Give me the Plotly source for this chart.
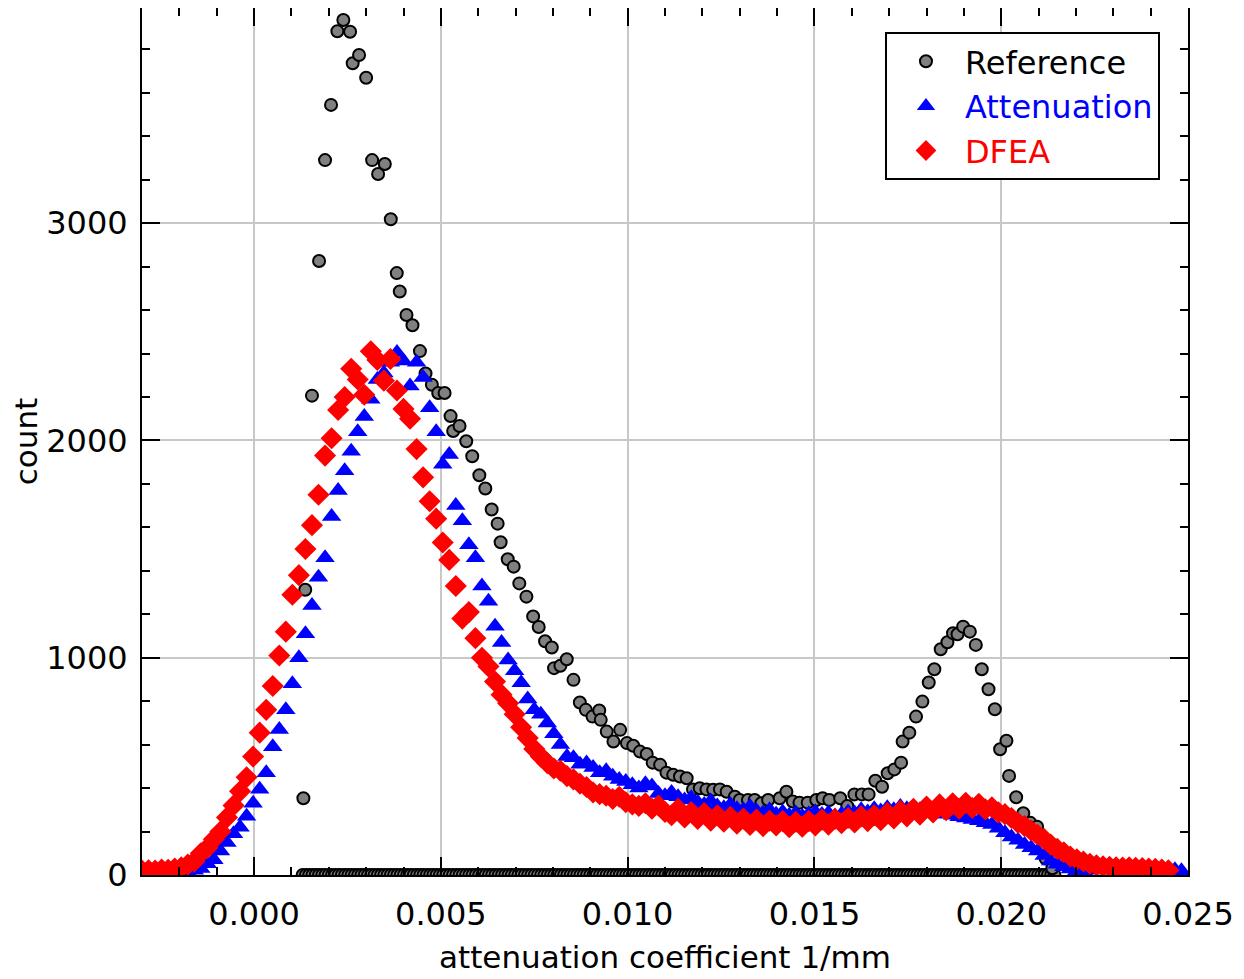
import plotly.graph_objects as go

# histogram bins shared by the two reconstructions
bin_start = -0.003
bin_width = 0.000175

attenuation = [
    5, 5, 6, 6, 7, 8, 10, 14, 22, 30,
    52, 70, 110, 150, 190, 220, 270, 330, 395, 470,
    590, 670, 760, 880, 1000, 1110, 1240, 1370, 1460, 1650,
    1770, 1860, 1950, 2040, 2110, 2190, 2280, 2310, 2360, 2405,
    2365, 2250, 2360, 2290, 2150, 2040, 1890, 1935, 1700, 1630,
    1520, 1460, 1330, 1260, 1145, 1070, 990, 940, 885, 810,
    760, 740, 700, 650, 600, 545, 540, 510, 515, 495,
    470, 480, 455, 440, 430, 415, 400, 420, 410, 375,
    365, 380, 360, 345, 355, 335, 325, 340, 318, 310,
    325, 305, 300, 315, 295, 285, 300, 280, 290, 275,
    285, 270, 282, 290, 278, 285, 272, 280, 290, 285,
    300, 290, 305, 295, 310, 300, 315, 305, 312, 300,
    295, 290, 280, 285, 275, 268, 262, 255, 250, 240,
    232, 215, 195, 175, 160, 140, 125, 110, 90, 65,
    50, 38, 28, 20, 18, 22, 25, 28, 30, 30,
    32, 30, 32, 30, 30, 28, 28, 26, 24, 20,
]

dfea = [
    20, 22, 20, 25, 24, 30, 35, 48, 62, 100,
    125, 165, 200, 265, 320, 385, 450, 545, 655, 760,
    870, 1010, 1120, 1290, 1380, 1500, 1610, 1750, 1930, 2010,
    2140, 2200, 2330, 2280, 2210, 2410, 2370, 2275, 2375, 2230,
    2145, 2100, 1960, 1830, 1720, 1640, 1530, 1450, 1330, 1180,
    1210, 1090, 1000, 960, 890, 830, 790, 740, 680, 630,
    580, 545, 515, 490, 480, 455, 440, 420, 405, 380,
    372, 365, 350, 360, 335, 325, 318, 330, 305, 320,
    290, 275, 305, 265, 290, 258, 285, 250, 275, 245,
    268, 236, 260, 230, 255, 225, 250, 228, 248, 220,
    245, 222, 248, 228, 255, 232, 258, 238, 262, 242,
    270, 248, 275, 252, 285, 260, 295, 270, 305, 278,
    315, 288, 325, 298, 330, 305, 332, 308, 328, 302,
    312, 288, 280, 262, 240, 225, 205, 185, 165, 140,
    120, 105, 85, 72, 62, 52, 45, 40, 38, 36,
    34, 35, 33, 32, 30, 28, 25, 22,
]

reference_x = [
    0.00132, 0.00137, 0.00155, 0.00174, 0.00190, 0.00206, 0.00223, 0.00239,
    0.00257, 0.00264, 0.00281, 0.00300, 0.00316, 0.00332, 0.00350, 0.00366,
    0.00382, 0.00390, 0.00408, 0.00424, 0.00444, 0.00459, 0.00476, 0.00493,
    0.00510, 0.00526, 0.00533, 0.00550, 0.00568, 0.00584, 0.00603, 0.00619,
    0.00636, 0.00652, 0.00660, 0.00679, 0.00695, 0.00710, 0.00729, 0.00747,
    0.00762, 0.00779, 0.00797, 0.00803, 0.00820, 0.00837, 0.00855, 0.00872,
    0.00888, 0.00906, 0.00924, 0.00928, 0.00944, 0.00962, 0.00980, 0.00998,
    0.01015, 0.01033, 0.01051, 0.01067, 0.01087, 0.01104, 0.01122, 0.01140,
    0.01158, 0.01175, 0.01193, 0.01211, 0.01229, 0.01247, 0.01265, 0.01287,
    0.01300, 0.01322, 0.01340, 0.01358, 0.01376, 0.01407, 0.01425, 0.01442,
    0.01460, 0.01482, 0.01505, 0.01522, 0.01540, 0.01569, 0.01588, 0.01607,
    0.01627, 0.01645, 0.01663, 0.01681, 0.01696, 0.01714, 0.01732, 0.01736,
    0.01754, 0.01772, 0.01789, 0.01806, 0.01821, 0.01838, 0.01856, 0.01871,
    0.01883, 0.01898, 0.01916, 0.01932, 0.01948, 0.01966, 0.01983, 0.01997,
    0.02014, 0.02021, 0.02040, 0.02059, 0.02078, 0.02096, 0.02119, 0.02137,
]
reference_y = [
    353, 1313, 2206, 2826, 3290, 3544, 3883, 3935,
    3881, 3736, 3774, 3669, 3290, 3226, 3272, 3018,
    2770, 2685, 2577, 2530, 2411, 2308, 2256, 2218,
    2218, 2112, 2043, 2066, 1996, 1927, 1840, 1779,
    1682, 1617, 1531, 1453, 1419, 1342, 1281, 1190,
    1141, 1076, 1047, 952, 963, 993, 898, 794,
    760, 729, 757, 714, 660, 614, 668, 607,
    595, 568, 557, 517, 507, 471, 461, 453,
    445, 394, 399, 394, 392, 394, 383, 360,
    345, 345, 345, 330, 345, 353, 383, 338,
    333, 333, 345, 353, 345, 353, 317, 371,
    371, 371, 434, 406, 468, 486, 517, 614,
    655, 729, 798, 886, 947, 1039, 1071, 1113,
    1108, 1143, 1120, 1059, 947, 855, 763, 579,
    618, 456, 358, 284, 240, 222, 76, 31,
]

# empty reference bins between the first and last filled ones
zero_start = 0.0013
zero_step = 0.0000875
reference_empty = [0] * 231

fig = go.Figure()

ref_marker = dict(symbol="circle", size=12, color="#808080",
                  line=dict(color="black", width=2))

fig.add_trace(go.Scatter(x0=zero_start, dx=zero_step, y=reference_empty,
                         mode="markers", marker=ref_marker, showlegend=False,
                         hoverinfo="skip"))
fig.add_trace(go.Scatter(x=reference_x, y=reference_y, mode="markers",
                         name="Reference", marker=ref_marker))
fig.add_trace(go.Scatter(x0=bin_start, dx=bin_width, y=attenuation,
                         mode="markers",
                         name="<span style='color:#0000ff'>Attenuation</span>",
                         marker=dict(symbol="triangle-up", size=17, color="#0000ff")))
fig.add_trace(go.Scatter(x0=bin_start, dx=bin_width, y=dfea,
                         mode="markers",
                         name="<span style='color:#ff0000'>DFEA</span>",
                         marker=dict(symbol="diamond", size=17, color="#ff0000")))

axis_style = dict(
    showline=True, linecolor="black", linewidth=2, mirror="ticks",
    ticks="inside", ticklen=18, tickwidth=2, tickcolor="black",
    showgrid=True, gridcolor="#c8c8c8", gridwidth=2, zeroline=False,
    automargin=False, tickfont=dict(size=32),
)

fig.update_xaxes(
    **axis_style,
    range=[-0.003, 0.025], tick0=0, dtick=0.005, tickformat=".3f",
    ticklabelstandoff=10,
    minor=dict(dtick=0.001, ticks="inside", ticklen=8, tickwidth=2,
               tickcolor="black", showgrid=False),
    title=dict(text="attenuation coefficient 1/mm", standoff=14, font=dict(size=31)),
)
fig.update_yaxes(
    **axis_style,
    range=[0, 3990], tick0=0, dtick=1000,
    ticklabelstandoff=6,
    minor=dict(dtick=200, ticks="inside", ticklen=8, tickwidth=2,
               tickcolor="black", showgrid=False),
    title=dict(text="count", standoff=4, font=dict(size=31)),
)

# the page adds an 8px body margin, so the figure is a little smaller
fig.update_layout(
    width=1236, height=971,
    margin=dict(l=134, r=56, t=0, b=104),
    plot_bgcolor="white", paper_bgcolor="white",
    font=dict(family="DejaVu Sans, sans-serif", size=31, color="black"),
    legend=dict(x=0.7103, y=0.9723, xanchor="left", yanchor="top",
                bgcolor="white", bordercolor="black", borderwidth=2,
                itemwidth=68, font=dict(size=32)),
)

fig.write_html("out.html")
